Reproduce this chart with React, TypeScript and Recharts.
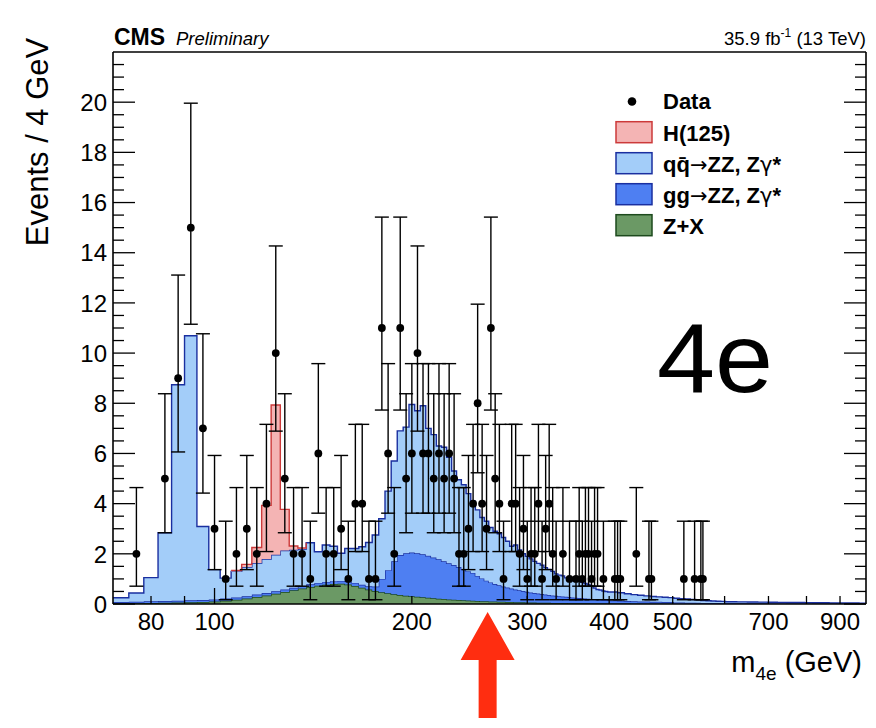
import { ComposedChart, Area, Scatter, ErrorBar, XAxis, YAxis, ReferenceLine } from 'recharts'

const FONT = '"Liberation Sans", Arial, Helvetica, sans-serif'
const SYMBOL_FONT = '"DejaVu Sans", sans-serif'

// histogram bin edges in GeV (4 GeV bins, wider in the tail)
const binEdges = [
  70, 74, 78, 82, 86, 90, 94, 98, 102, 106,
  110, 114, 118, 122, 126, 130, 134, 138, 142, 146,
  150, 154, 158, 162, 166, 170, 174, 178, 182, 186,
  190, 194, 198, 202, 206, 210, 214, 218, 222, 226,
  230, 234, 238, 242, 246, 250, 254, 258, 262, 266,
  270, 274, 278, 282, 286, 290, 294, 298, 302, 306,
  310, 314, 318, 322, 326, 330, 334, 338, 342, 346,
  350, 354, 358, 362, 366, 370, 374, 378, 382, 386,
  390, 394, 398, 402,
  412, 422, 432, 442, 452, 462, 472, 482, 492, 502,
  512, 522, 532, 542, 552, 562, 572, 582, 592, 602,
  626, 650, 674, 698, 722, 746, 770, 794, 818, 842,
  866, 890, 914, 938, 962, 986,
]

// Z+X, events / 4 GeV per bin
const zxBins = [
  0.02, 0.03, 0.04, 0.05, 0.06, 0.07, 0.08, 0.1, 0.13, 0.17,
  0.22, 0.28, 0.34, 0.41, 0.48, 0.55, 0.62, 0.68, 0.73, 0.77,
  0.8, 0.81, 0.78, 0.72, 0.65, 0.58, 0.52, 0.47, 0.43, 0.39,
  0.36, 0.33, 0.31, 0.29, 0.27, 0.25, 0.23, 0.21, 0.2, 0.18,
  0.17, 0.16, 0.15, 0.14, 0.13, 0.12, 0.11, 0.11, 0.1, 0.1,
  0.09, 0.09, 0.08, 0.08, 0.07, 0.07, 0.07, 0.06, 0.06, 0.06,
  0.05, 0.05, 0.05, 0.05, 0.04, 0.04, 0.04, 0.04, 0.04, 0.03,
  0.03, 0.03, 0.03, 0.03, 0.03, 0.03, 0.02, 0.02, 0.02, 0.02,
  0.02, 0.02, 0.02,
  0.02, 0.02, 0.02, 0.01, 0.01, 0.01, 0.01, 0.01, 0.01, 0.01,
  0, 0, 0, 0, 0, 0, 0, 0, 0, 0,
  0, 0, 0, 0, 0, 0, 0, 0, 0, 0, 0, 0, 0, 0, 0, 0,
]

// gg -> ZZ, Zgamma*
const ggBins = [
  0.06, 0.06, 0.07, 0.07, 0.07, 0.08, 0.08, 0.08, 0.09, 0.09,
  0.09, 0.1, 0.1, 0.1, 0.1, 0.1, 0.1, 0.11, 0.11, 0.11,
  0.11, 0.11, 0.12, 0.12, 0.12, 0.13, 0.18, 0.53, 0.92, 1.31,
  1.59, 1.69, 1.74, 1.73, 1.71, 1.67, 1.62, 1.57, 1.5, 1.44,
  1.38, 1.31, 1.24, 1.17, 1.11, 1.0, 0.91, 0.82, 0.76, 0.7,
  0.66, 0.61, 0.58, 0.54, 0.51, 0.48, 0.45, 0.43, 0.4, 0.38,
  0.37, 0.35, 0.33, 0.31, 0.3, 0.29, 0.27, 0.26, 0.25, 0.25,
  0.23, 0.22, 0.21, 0.2, 0.19, 0.18, 0.18, 0.17, 0.16, 0.15,
  0.14, 0.14, 0.13,
  0.12, 0.11, 0.1, 0.095, 0.09, 0.085, 0.08, 0.075, 0.07, 0.065,
  0.06, 0.055, 0.05, 0.048, 0.045, 0.042, 0.04, 0.038, 0.035, 0.033,
  0.03, 0.028, 0.026, 0.025, 0.024, 0.022, 0.02, 0.02, 0.018, 0.017,
  0.016, 0.015, 0.014, 0.013, 0.012, 0.011,
]

// qqbar -> ZZ, Zgamma*
const qqBins = [
  0.17, 0.35, 0.94, 2.72, 8.61, 10.54, 2.93, 1.19, 0.81, 1.04,
  1.16, 1.25, 1.35, 1.45, 1.55, 1.51, 1.47, 1.65, 1.24, 1.47,
  1.39, 1.1, 1.31, 1.37, 1.51, 1.74, 2.05, 2.4, 3.15, 4.0,
  4.95, 5.03, 5.9, 5.68, 5.92, 5.08, 4.9, 4.52, 4.55, 4.23,
  3.75, 3.48, 3.36, 3.09, 2.86, 2.63, 2.43, 2.37, 2.19, 2.1,
  2.05, 1.95, 1.84, 1.68, 1.77, 1.6, 1.48, 1.41, 1.34, 1.26,
  1.2, 1.15, 1.07, 1.02, 0.96, 0.87, 0.84, 0.82, 0.75, 0.72,
  0.69, 0.67, 0.66, 0.63, 0.6, 0.57, 0.52, 0.45, 0.4, 0.39,
  0.36, 0.34, 0.33,
  0.34, 0.32, 0.29, 0.27, 0.25, 0.23, 0.21, 0.2, 0.19, 0.18,
  0.17, 0.16, 0.15, 0.13, 0.12, 0.1, 0.09, 0.08, 0.075, 0.07,
  0.06, 0.057, 0.054, 0.05, 0.046, 0.043, 0.04, 0.038, 0.037, 0.033,
  0.032, 0.03, 0.028, 0.027, 0.026, 0.024,
]

// H(125) signal, only around the peak
const higgsEdges = [106, 110, 114, 118, 122, 126, 130, 134, 138]
const higgsBins = [0.04, 0.11, 0.62, 2.14, 5.97, 1.64, 0.15, 0.04, 0]

// observed events at bin centres
const dataMass = [
  76, 84, 88, 92, 96, 100, 104, 108, 112, 116, 120, 124, 128, 132, 136, 140, 144, 148, 152, 156,
  160, 164, 168, 172, 176, 180, 184, 188, 192, 196, 200, 204, 208, 212, 216, 220, 224, 228, 232, 236,
  240, 244, 248, 252, 256, 260, 264, 268, 272, 276, 284, 288, 292, 296, 300, 304, 308, 312, 316, 320,
  324, 328, 332, 340, 348, 356, 360, 364, 368, 372, 376, 380, 384, 392, 408, 412, 416, 440, 460, 464,
  520, 540, 552, 556,
]
const dataCounts = [
  2, 5, 9, 15, 7, 3, 1, 2, 3, 2, 4, 10, 5, 2, 2, 1, 6, 2, 2, 3,
  1, 4, 4, 1, 1, 11, 6, 2, 11, 5, 6, 10, 6, 6, 5, 6, 5, 6, 5, 2,
  2, 3, 4, 8, 4, 3, 11, 5, 4, 1, 4, 4, 2, 3, 1, 2, 2, 4, 1, 3,
  4, 2, 1, 2, 1, 1, 2, 1, 2, 2, 1, 2, 2, 1, 1, 1, 1, 2, 1, 1,
  1, 1, 1, 1,
]

// Poisson interval ends, indexed by count
const poissonLow = [0, 0.17, 0.71, 1.37, 2.09, 2.84, 3.62, 4.42, 5.23, 6.06, 6.89, 7.73, 8.58, 9.44, 10.29, 11.15]
const poissonHigh = [1.84, 3.3, 4.64, 5.92, 7.16, 8.38, 9.58, 10.77, 11.95, 13.11, 14.27, 15.42, 16.56, 17.7, 18.83, 19.96]

const xTicks = [80, 90, 100, 200, 300, 400, 500, 600, 700, 800, 900]
const xLabels = [80, 100, 200, 300, 400, 500, 700, 900]
const yLabels = [0, 2, 4, 6, 8, 10, 12, 14, 16, 18, 20]
const yTicks = Array.from({ length: 44 }, (_, i) => i * 0.5)

const markerMass = 261

const legendItems = [
  { key: 'h', fill: '#f4b4b4', stroke: '#cc3a3a' },
  { key: 'qq', fill: '#a3cdf9', stroke: '#1a2fa0' },
  { key: 'gg', fill: '#4e7ff2', stroke: '#1a2fa0' },
  { key: 'zx', fill: '#6b9965', stroke: '#1d4a1d' },
]

const histRows = binEdges.map((m, i) => {
  const k = Math.min(i, zxBins.length - 1)
  const hi = higgsEdges.indexOf(m)
  return { m, zx: zxBins[k], gg: ggBins[k], qq: qqBins[k], h: hi >= 0 ? higgsBins[hi] : null }
})

const dataPoints = dataMass.map((m, i) => {
  const n = dataCounts[i]
  return { m, n, err: [n - poissonLow[n], poissonHigh[n] - n] }
})

const BottomTick = (p: any) => {
  const { x, y, payload } = p
  const v = payload.value
  const len = v === 100 ? 16 : 8
  return (
    <g>
      <line x1={x} x2={x} y1={y} y2={y - len} stroke="#000" strokeWidth={1.3} />
      {xLabels.includes(v) && (
        <text x={x} y={y + 26} textAnchor="middle" fontSize={24} fontFamily={FONT} fill="#000">
          {v}
        </text>
      )}
    </g>
  )
}

const TopTick = (p: any) => {
  const { x, y, payload } = p
  const len = payload.value === 100 ? 16 : 8
  return <line x1={x} x2={x} y1={y} y2={y + len} stroke="#000" strokeWidth={1.3} />
}

const LeftTick = (p: any) => {
  const { x, y, payload } = p
  const v = payload.value
  const major = v % 2 === 0
  return (
    <g>
      <line x1={x} x2={x + (major ? 22 : 11)} y1={y} y2={y} stroke="#000" strokeWidth={1.3} />
      {yLabels.includes(v) && (
        <text x={x - 6} y={y + 8.7} textAnchor="end" fontSize={24} fontFamily={FONT} fill="#000">
          {v}
        </text>
      )}
    </g>
  )
}

const RightTick = (p: any) => {
  const { x, y, payload } = p
  const major = payload.value % 2 === 0
  return <line x1={x} x2={x - (major ? 22 : 11)} y1={y} y2={y} stroke="#000" strokeWidth={1.3} />
}

const DataDot = (p: any) => <circle cx={p.cx} cy={p.cy} r={3.9} fill="#000" />

const ArrowMark = (p: any) => {
  const cx = p.x1
  const b = Math.max(p.y1, p.y2)
  const pts = [
    [cx, b + 8], [cx + 27, b + 56], [cx + 9, b + 56], [cx + 9, b + 114],
    [cx - 9, b + 114], [cx - 9, b + 56], [cx - 27, b + 56],
  ]
  return <polygon points={pts.map((q) => q.join(',')).join(' ')} fill="#ff2d10" />
}

const axisLine = { stroke: '#000', strokeWidth: 1.6 }

const Sym = ({ children }: { children: string }) => (
  <tspan fontFamily={SYMBOL_FONT} fontWeight="normal" fontSize={21}>{children}</tspan>
)

export default function App() {
  const [hC, qqC, ggC, zxC] = legendItems
  return (
    <div style={{ position: 'absolute', left: 0, top: 0, width: 876, height: 728, background: '#fff' }}>
      <ComposedChart width={876} height={728} data={histRows} margin={{ top: 51, right: 9, bottom: 84, left: 53 }}>
        <XAxis
          dataKey="m" type="number" scale="log" domain={[70, 986]} allowDataOverflow
          ticks={xTicks} interval={0} tickLine={false} tickSize={0} tickMargin={0} height={40}
          axisLine={axisLine} tick={(p: any) => <BottomTick {...p} />}
        />
        <XAxis
          xAxisId="top" orientation="top" type="number" scale="log" domain={[70, 986]} allowDataOverflow
          ticks={xTicks} interval={0} tickLine={false} tickSize={0} tickMargin={0} height={1}
          axisLine={axisLine} tick={(p: any) => <TopTick {...p} />}
        />
        <YAxis
          type="number" domain={[0, 22]} allowDataOverflow ticks={yTicks} interval={0}
          tickLine={false} tickSize={0} tickMargin={0} width={60}
          axisLine={axisLine} tick={(p: any) => <LeftTick {...p} />}
        />
        <YAxis
          yAxisId="right" orientation="right" type="number" domain={[0, 22]} allowDataOverflow ticks={yTicks} interval={0}
          tickLine={false} tickSize={0} tickMargin={0} width={1}
          axisLine={axisLine} tick={(p: any) => <RightTick {...p} />}
        />
        <Area type="stepAfter" dataKey="zx" stackId="bkg" fill={zxC.fill} fillOpacity={1} stroke={zxC.stroke} strokeWidth={1.4} isAnimationActive={false} dot={false} activeDot={false} />
        <Area type="stepAfter" dataKey="gg" stackId="bkg" fill={ggC.fill} fillOpacity={1} stroke={ggC.stroke} strokeWidth={1.4} isAnimationActive={false} dot={false} activeDot={false} />
        <Area type="stepAfter" dataKey="qq" stackId="bkg" fill={qqC.fill} fillOpacity={1} stroke={qqC.stroke} strokeWidth={1.4} isAnimationActive={false} dot={false} activeDot={false} />
        <Area type="stepAfter" dataKey="h" stackId="bkg" fill={hC.fill} fillOpacity={1} stroke={hC.stroke} strokeWidth={1.4} isAnimationActive={false} dot={false} activeDot={false} />
        <ReferenceLine x={markerMass} shape={(p: any) => <ArrowMark {...p} />} />
        <Scatter data={dataPoints} dataKey="n" isAnimationActive={false} shape={(p: any) => <DataDot {...p} />}>
          <ErrorBar dataKey="err" direction="y" width={7} stroke="#000" strokeWidth={1.4} isAnimationActive={false} />
        </Scatter>
      </ComposedChart>
      <svg width={876} height={728} style={{ position: 'absolute', left: 0, top: 0, pointerEvents: 'none' }} fontFamily={FONT}>
        <text x={114} y={45} fontSize={23} fontWeight="bold">CMS</text>
        <text x={176} y={45} fontSize={18.5} fontStyle="italic">Preliminary</text>
        <text x={866} y={45} fontSize={18.5} textAnchor="end">
          35.9 fb<tspan fontSize={12} dy={-8}>-1</tspan><tspan fontSize={18.5} dy={8}> (13 TeV)</tspan>
        </text>
        <text transform="translate(48,142) rotate(-90)" textAnchor="middle" fontSize={31}>Events / 4 GeV</text>
        <text x={862} y={672} textAnchor="end" fontSize={29}>
          m<tspan fontSize={19} dy={8}>4e</tspan><tspan fontSize={29} dy={-8}> (GeV)</tspan>
        </text>
        <text x={657} y={392} fontSize={99} textLength={116} lengthAdjust="spacingAndGlyphs">4e</text>

        <circle cx={632} cy={101.5} r={4.3} fill="#000" />
        <text x={663} y={109} fontSize={22} fontWeight="bold">Data</text>
        {legendItems.map((it, i) => (
          <rect key={it.key} x={616} y={121.7 + i * 31} width={36} height={21} fill={it.fill} stroke={it.stroke} strokeWidth={1.5} />
        ))}
        <text x={663} y={140.5} fontSize={22} fontWeight="bold">H(125)</text>
        <text x={663} y={171.5} fontSize={22} fontWeight="bold">
          qq{'\u0304'}<Sym>→</Sym>ZZ, Z<Sym>γ</Sym>*
        </text>
        <text x={663} y={202.5} fontSize={22} fontWeight="bold">
          gg<Sym>→</Sym>ZZ, Z<Sym>γ</Sym>*
        </text>
        <text x={663} y={233.5} fontSize={22} fontWeight="bold">Z+X</text>
      </svg>
    </div>
  )
}
